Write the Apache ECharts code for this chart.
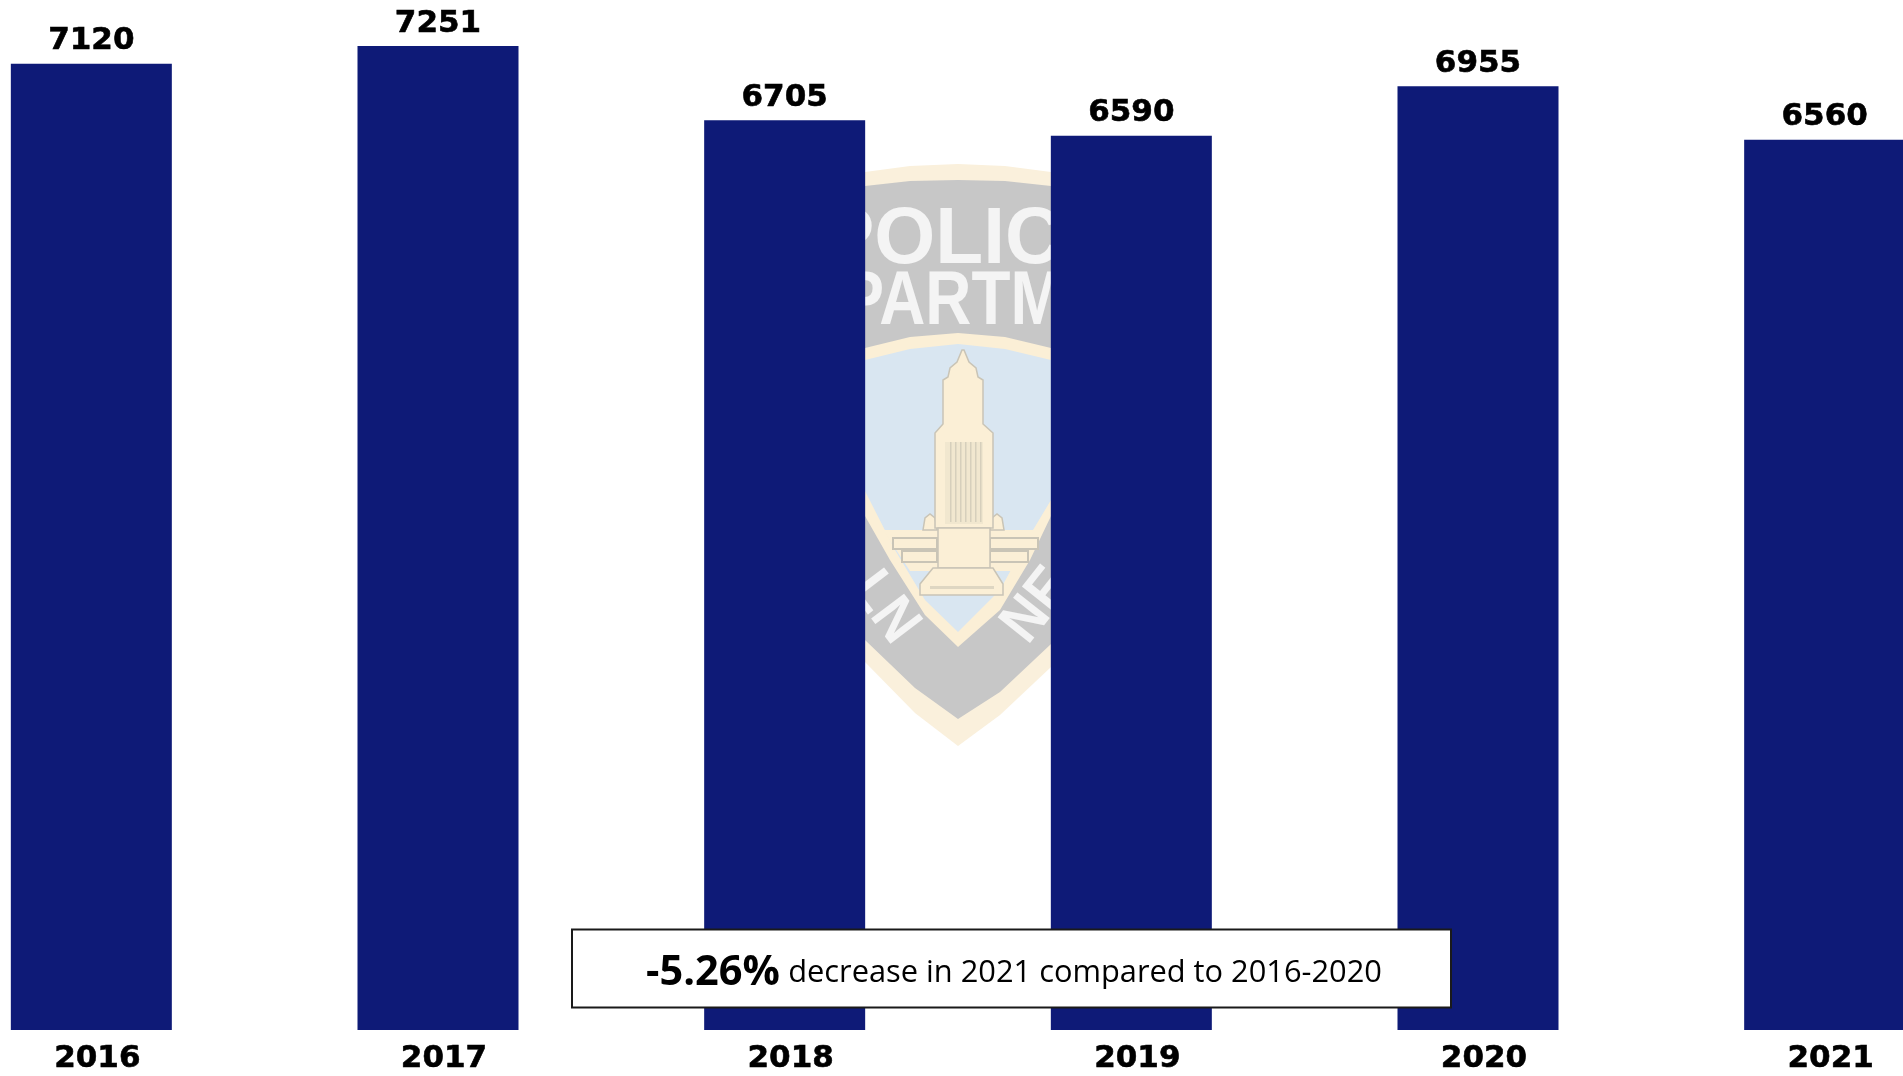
<!DOCTYPE html>
<html>
<head>
<meta charset="utf-8">
<style>html,body{margin:0;padding:0;background:#fff}#c{width:1903px;height:1076px}</style>
<script src="https://cdn.jsdelivr.net/npm/echarts@6/dist/echarts.min.js"></script>
</head>
<body>
<div id="c"></div>
<script>
const years = ['2016', '2017', '2018', '2019', '2020', '2021'];
const totals = [7120, 7251, 6705, 6590, 6955, 6560];
const noteBold = '-5.26%';
const noteText = 'decrease in 2021 compared to 2016-2020';

const cream = '#FAF0DC', gray = '#C7C7C7', sky = '#D9E6F1', tower = '#FBEFD6', line = '#C9C4B6';
function poly(points, fill, stroke, w) {
  return { type: 'polygon', silent: true, z: -10, shape: { points }, style: { fill, stroke: stroke || null, lineWidth: stroke ? (w || 1.5) : 0 } };
}
function word(text, x, y, size, rotation, scaleX) {
  return { type: 'text', silent: true, z: -9, x, y, rotation: rotation || 0, scaleX: scaleX || 1,
    style: { text, fill: '#F4F4F4', font: '700 ' + size + 'px "Liberation Sans"', textAlign: 'center', textVerticalAlign: 'middle' } };
}
const crenels = [];
[[893,538,44,11],[902,551,35,11],[990,538,48,11],[990,551,38,11]].forEach(function (r) {
  const x = r[0], y = r[1], w = r[2], h = r[3];
  crenels.push(poly([[x,y],[x+w,y],[x+w,y+h],[x,y+h]], tower, line, 2));
});
const shaftLines = [];
[950,955,960,965,970,975,980].forEach(function (x) {
  shaftLines.push(poly([[x,442],[x+1.5,442],[x+1.5,522],[x,522]], '#D6CFBC'));
});
const badge = [
  poly([[800,190],[830,180],[865,172],[910,166],[958,164],[1005,166],[1051,172],[1080,180],[1110,190],[1110,620],[1051,667],[1000,715],[958,746],[915,713],[865,662],[800,600]], cream),
  poly([[800,204],[830,194],[865,186],[910,181],[958,180],[1005,181],[1051,186],[1080,194],[1110,204],[1110,600],[1051,644],[1000,692],[958,719],[915,688],[865,640],[800,580]], gray),
  word('POLICE', 968, 241, 80, 0, 0.98),
  word('DEPARTMENT', 972, 303, 76, 0, 0.84),
  word('LN', 884, 608, 60, -0.92, 0.9),
  word('NE', 1038, 606, 60, 0.9, 0.9),
  poly([[800,362],[865,348],[910,337],[958,333],[1005,337],[1051,348],[1110,362],[1110,440],[1051,516],[1030,560],[1000,610],[958,647],[925,615],[890,560],[865,516],[800,440]], tower),
  poly([[800,374],[865,360],[910,349],[958,344],[1005,349],[1051,360],[1110,374],[1110,430],[1051,500],[1030,535],[1000,590],[958,632],[925,600],[895,550],[865,491],[800,430]], sky),
  poly([[883,530],[1043,530],[1012,571],[910,571]], tower),
  poly([[923,530],[925,518],[930,514],[935,518],[937,530]], tower, line),
  poly([[990,530],[992,518],[997,514],[1002,518],[1004,530]], tower, line),
  poly([[935,528],[935,433],[943,424],[943,380],[948,377],[950,368],[957,362],[962,350],[964,350],[969,362],[976,368],[978,377],[983,380],[983,424],[993,433],[993,528]], tower, line),
  poly([[945,442],[983,442],[983,524],[945,524]], '#F1E7CF')
].concat(shaftLines, crenels, [
  poly([[938,528],[990,528],[990,568],[938,568]], tower, line),
  poly([[920,584],[933,568],[993,568],[1003,584],[1003,595],[920,595]], tower, line),
  poly([[930,586],[994,586],[994,589],[930,589]], '#DED6C2')
]);

const option = {
  animation: false,
  backgroundColor: '#fff',
  grid: { left: -82, width: 2080, top: 12.25, height: 1017.75, outerBoundsMode: 'none' },
  xAxis: {
    type: 'category', data: years,
    axisLine: { show: false }, axisTick: { show: false },
    axisLabel: { color: '#000', margin: 13, padding: [0, 0, 0, 12], fontFamily: 'DejaVu Sans', fontWeight: 'bold', fontSize: 31, textBorderColor: '#000', textBorderWidth: 0.6 }
  },
  yAxis: { type: 'value', min: 0, max: 7500, show: false, splitLine: { show: false } },
  series: [{
    type: 'bar', data: totals, barWidth: 161, itemStyle: { color: '#0E1A77' }, clip: false,
    label: { show: true, position: 'top', distance: 7, color: '#000', fontFamily: 'DejaVu Sans', fontWeight: 'bold', fontSize: 31, textBorderColor: '#000', textBorderWidth: 0.6 }
  }],
  graphic: badge.concat([
    { type: 'rect', silent: true, z: 100, shape: { x: 572, y: 929.5, width: 879, height: 78 }, style: { fill: '#fff', stroke: '#1a1a1a', lineWidth: 2 } },
    { type: 'text', silent: true, z: 101, x: 1014, y: 973,
      style: {
        text: '{b|' + noteBold + '} {n|' + noteText + '}', textAlign: 'center', textVerticalAlign: 'middle',
        rich: {
          b: { fill: '#000', fontFamily: 'Open Sans', fontWeight: 700, fontSize: 41.5 },
          n: { fill: '#000', fontFamily: 'Open Sans', fontSize: 30.8, padding: [0, 0, 0, 5] }
        }
      } }
  ])
};
echarts.init(document.getElementById('c'), null, { renderer: 'canvas' }).setOption(option);
</script>
</body>
</html>
